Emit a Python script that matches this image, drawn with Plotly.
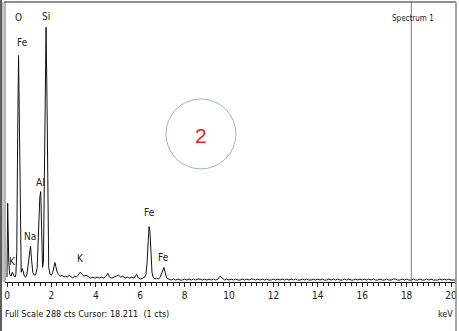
import plotly.graph_objects as go

# ---------------- data ----------------
energy_kev = [
    0.00, 0.03, 0.08, 0.12, 0.18, 0.24, 0.30, 0.36, 0.40, 0.44, 0.48, 0.52, 0.56, 0.60,
    0.64, 0.68, 0.72, 0.78, 0.84, 0.90, 0.96, 1.02, 1.06, 1.10, 1.16, 1.22, 1.30, 1.36,
    1.42, 1.48, 1.52, 1.56, 1.60, 1.64, 1.68, 1.72, 1.76, 1.80, 1.84, 1.88, 1.94, 2.00,
    2.06, 2.12, 2.16, 2.20, 2.26, 2.32, 2.40, 2.48, 2.56, 2.64, 2.72, 2.80, 2.88, 2.96,
    3.04, 3.12, 3.20, 3.30, 3.38, 3.46, 3.56, 3.66, 3.76, 3.86, 3.96,
    4.06, 4.16, 4.26, 4.36, 4.46, 4.54, 4.62, 4.72, 4.82, 4.92, 5.02, 5.12, 5.22, 5.32,
    5.42, 5.52, 5.62, 5.72, 5.84, 5.92, 6.02, 6.12, 6.20, 6.26, 6.31, 6.36, 6.40, 6.44,
    6.48, 6.53, 6.58, 6.66, 6.74, 6.82, 6.90, 6.96, 7.02, 7.07, 7.12, 7.18, 7.26,
    7.3, 7.4, 7.5, 7.6, 7.7, 7.8, 7.9, 8.0, 8.1, 8.2,
    8.3, 8.4, 8.5, 8.6, 8.7, 8.8, 8.9, 9.0, 9.1, 9.2,
    9.3, 9.4, 9.5, 9.6, 9.7, 9.8, 9.9, 10.0, 10.1, 10.2,
    10.3, 10.4, 10.5, 10.6, 10.7, 10.8, 10.9, 11.0, 11.1, 11.2,
    11.3, 11.4, 11.5, 11.6, 11.7, 11.8, 11.9, 12.0, 12.1, 12.2,
    12.3, 12.4, 12.5, 12.6, 12.7, 12.8, 12.9, 13.0, 13.1, 13.2,
    13.3, 13.4, 13.5, 13.6, 13.7, 13.8, 13.9, 14.0, 14.1, 14.2,
    14.3, 14.4, 14.5, 14.6, 14.7, 14.8, 14.9, 15.0, 15.1, 15.2,
    15.3, 15.4, 15.5, 15.6, 15.7, 15.8, 15.9, 16.0, 16.1, 16.2,
    16.3, 16.4, 16.5, 16.6, 16.7, 16.8, 16.9, 17.0, 17.1, 17.2,
    17.3, 17.4, 17.5, 17.6, 17.7, 17.8, 17.9, 18.0, 18.1, 18.2,
    18.3, 18.4, 18.5, 18.6, 18.7, 18.8, 18.9, 19.0, 19.1, 19.2,
    19.3, 19.4, 19.5, 19.6, 19.7, 19.8, 19.9, 20.0, 20.1, 20.2,
]
counts = [
    5, 81, 20, 8, 6, 10, 7, 5, 8, 30, 150, 233, 160, 40,
    10, 14, 12, 6, 5, 8, 18, 30, 37, 25, 10, 7, 8, 15,
    60, 88, 93, 50, 15, 20, 90, 200, 262, 190, 60, 15, 8, 7,
    10, 18, 20, 16, 10, 8, 6, 7, 5, 6, 5, 7, 5, 4,
    6, 5, 7, 10, 8, 6, 7, 5, 4, 5, 4,
    5, 4, 5, 4, 6, 9, 5, 4, 5, 6, 7, 5, 6, 4,
    5, 4, 5, 4, 8, 4, 3, 4, 5, 8, 20, 42, 57, 52,
    30, 10, 5, 3, 4, 3, 5, 9, 13, 15, 10, 5, 3,
    3, 2, 3, 2, 3, 2, 2, 3, 2, 3,
    2, 3, 2, 3, 3, 2, 3, 2, 3, 2,
    3, 2, 3, 6, 4, 2, 3, 2, 3, 2,
    3, 2, 2, 3, 2, 3, 2, 3, 3, 2,
    3, 2, 3, 2, 3, 2, 2, 3, 2, 3,
    2, 3, 2, 3, 2, 3, 2, 3, 2, 2,
    3, 2, 3, 2, 2, 3, 2, 3, 2, 3,
    2, 2, 3, 2, 3, 2, 3, 2, 2, 3,
    2, 3, 2, 2, 3, 2, 3, 2, 3, 2,
    3, 2, 3, 2, 2, 3, 2, 2, 3, 2,
    2, 3, 3, 2, 2, 3, 2, 3, 2, 2,
    3, 2, 2, 3, 2, 2, 3, 2, 3, 2,
    2, 2, 3, 2, 3, 2, 3, 2, 2, 2,
]

peak_labels = ["K", "O", "Fe", "Na", "Al", "Si", "K", "Fe", "Fe"]
peak_label_kev = [0.27, 0.54, 0.72, 1.04, 1.49, 1.76, 3.33, 6.40, 7.07]
peak_label_cts = [21, 272, 246, 47, 102, 273, 24, 71, 25]

x_tick_vals = [0, 2, 4, 6, 8, 10, 12, 14, 16, 18, 20]
x_tick_text = ["0", "2", "4", "6", "8", "10", "12", "14", "16", "18", "20"]

full_scale_cts = 288
cursor_kev = 18.211
cursor_cts = 1
spectrum_name = "Spectrum 1"
marker_text = "2"

# ---------------- figure ----------------
NARROW = "Liberation Sans Narrow, Arial Narrow, DejaVu Sans Condensed, sans-serif"

fig = go.Figure()
fig.add_trace(go.Scatter(
    x=energy_kev, y=counts, mode="lines",
    line=dict(color="#111111", width=1), hoverinfo="skip", showlegend=False,
))

for t, xk, yc in zip(peak_labels, peak_label_kev, peak_label_cts):
    fig.add_annotation(x=xk, y=yc, text=t, showarrow=False,
                       font=dict(family=NARROW, size=10, color="#222222"))

# cursor line
fig.add_shape(type="line", xref="x", yref="paper", x0=cursor_kev, x1=cursor_kev,
              y0=0, y1=1, line=dict(color="#7a7a7a", width=1))
fig.add_annotation(xref="paper", yref="paper", x=0.955, y=0.963, text=spectrum_name,
                   showarrow=False, font=dict(family=NARROW, size=8, color="#222222"))

# circle with number
fig.add_shape(type="circle", xref="x", yref="y", x0=7.16, x1=10.31, y0=116.3, y1=188.3,
              line=dict(color="#9db4c8", width=1))
fig.add_annotation(x=8.74, y=151, text=marker_text, showarrow=False,
                   font=dict(family="Liberation Sans, Arial, sans-serif", size=21, color="#e81c24"))

# frame: top, left double line, right, dark left band
fig.add_shape(type="line", xref="paper", yref="paper", x0=-0.002, x1=1.0, y0=1, y1=1,
              line=dict(color="#6b6b6b", width=1.5))
fig.add_shape(type="line", xref="paper", yref="paper", x0=0.0, x1=0.0, y0=0, y1=1,
              line=dict(color="#6b6b6b", width=1))
fig.add_shape(type="line", xref="paper", yref="paper", x0=-0.0045, x1=-0.0045, y0=0, y1=1,
              line=dict(color="#8a8a8a", width=1))
fig.add_shape(type="line", xref="paper", yref="paper", x0=1.0, x1=1.0, y0=-0.18, y1=1,
              line=dict(color="#8a8a8a", width=1.5))
fig.add_shape(type="rect", xref="paper", yref="paper", x0=-0.0111, x1=-0.0066, y0=-0.18, y1=1.01,
              line=dict(width=0), fillcolor="#5e5e5e")

# bottom status text
fig.add_annotation(xref="paper", yref="paper", x=-0.0045, y=-0.139, xanchor="left",
                   text="Full Scale %d cts Cursor: %.3f  (%d cts)" % (full_scale_cts, cursor_kev, cursor_cts),
                   showarrow=False, font=dict(family=NARROW, size=9, color="#111111"))
fig.add_annotation(xref="paper", yref="paper", x=0.997, y=-0.139, xanchor="right",
                   text="keV", showarrow=False, font=dict(family=NARROW, size=9, color="#111111"))

fig.update_layout(
    width=459, height=331,
    margin=dict(l=5, r=3, t=2, b=49),
    paper_bgcolor="white", plot_bgcolor="white",
    showlegend=False,
    xaxis=dict(range=[-0.09, 20.225], showgrid=False, zeroline=False,
               showline=True, linecolor="#111111", linewidth=1,
               ticks="outside", ticklen=4, tickcolor="#222222", tickwidth=1,
               tickvals=x_tick_vals, ticktext=x_tick_text,
               minor=dict(dtick=0.25, tick0=0, ticks="outside", ticklen=3,
                          tickcolor="#222222", tickwidth=1, showgrid=False),
               tickfont=dict(family=NARROW, size=10, color="#222222")),
    yaxis=dict(range=[0, full_scale_cts], showgrid=False, zeroline=False,
               showline=False, showticklabels=False, ticks=""),
)

fig.write_html("out.html", config={"displayModeBar": False},
               post_script="document.body.style.margin='0px';")
